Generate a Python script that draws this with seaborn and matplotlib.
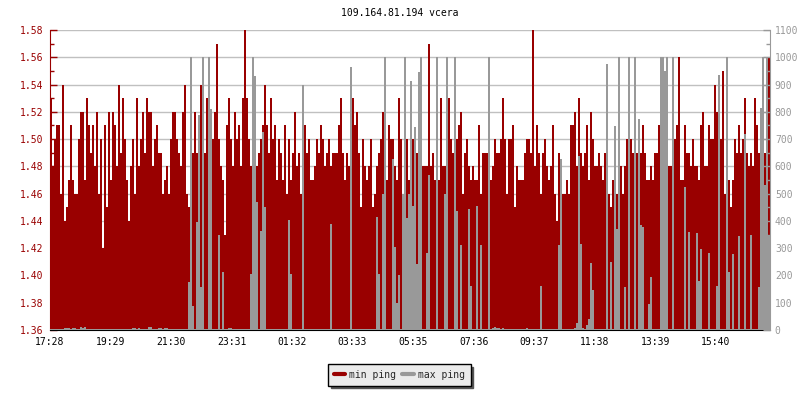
import numpy as np
import pandas as pd
import seaborn as sns
import matplotlib.pyplot as plt
from matplotlib.ticker import MultipleLocator, FormatStrFormatter
from matplotlib.lines import Line2D

title = "109.164.81.194 vcera"
start_time = "17:28"
tick_labels = ["17:28", "19:29", "21:30", "23:31", "01:32", "03:33",
               "05:35", "07:36", "09:37", "11:38", "13:39", "15:40"]
series_names = ["min ping", "max ping"]
step_minutes = 4  # one sample every 4 minutes, 24 hours

# min ping in hundredths of a ms (left axis)
min_ping_raw = [
    153, 148, 150, 151, 151, 146, 154, 144, 145, 147,
    151, 147, 146, 146, 150, 152, 152, 147, 153, 151,
    149, 151, 148, 152, 146, 150, 142, 151, 145, 152,
    147, 152, 151, 148, 154, 149, 153, 150, 147, 144,
    148, 150, 146, 153, 148, 150, 152, 149, 153, 152,
    152, 148, 150, 151, 149, 149, 146, 147, 148, 146,
    150, 152, 152, 150, 149, 148, 152, 154, 146, 145,
    149, 149, 152, 149, 150, 154, 147, 149, 153, 150,
    152, 150, 152, 157, 150, 148, 147, 143, 151, 153,
    150, 148, 152, 150, 151, 148, 153, 158, 153, 150,
    148, 147, 147, 148, 149, 150, 151, 154, 151, 149,
    153, 150, 151, 147, 150, 149, 147, 151, 146, 150,
    147, 149, 152, 148, 149, 146, 150, 151, 149, 150,
    147, 147, 148, 150, 149, 151, 150, 148, 149, 150,
    148, 149, 149, 149, 151, 153, 149, 147, 149, 148,
    154, 153, 151, 152, 149, 145, 150, 148, 147, 148,
    150, 145, 146, 148, 149, 150, 152, 148, 147, 151,
    150, 150, 148, 147, 153, 150, 146, 151, 150, 147,
    150, 150, 148, 149, 151, 147, 148, 148, 148, 157,
    148, 149, 147, 148, 147, 153, 148, 148, 149, 153,
    150, 149, 150, 150, 151, 152, 146, 149, 150, 148,
    147, 148, 147, 147, 151, 146, 149, 149, 149, 144,
    147, 148, 150, 149, 149, 150, 153, 150, 146, 150,
    150, 151, 145, 148, 147, 147, 147, 149, 150, 150,
    149, 158, 148, 151, 149, 146, 149, 150, 148, 147,
    148, 151, 146, 144, 149, 148, 146, 146, 147, 146,
    151, 151, 152, 148, 153, 149, 148, 149, 151, 147,
    152, 150, 148, 148, 149, 148, 147, 149, 152, 146,
    145, 147, 145, 146, 146, 148, 146, 148, 150, 151,
    150, 149, 149, 149, 151, 149, 151, 149, 147, 147,
    148, 147, 149, 149, 151, 148, 150, 148, 151, 148,
    148, 152, 150, 151, 156, 147, 147, 151, 149, 149,
    148, 150, 148, 148, 147, 151, 152, 148, 148, 151,
    150, 150, 154, 152, 152, 150, 155, 146, 150, 147,
    145, 147, 150, 149, 151, 149, 150, 153, 149, 148,
    149, 148, 153, 151, 149, 148, 148, 149, 149, 156,
]

# max ping in ms (right axis)
max_ping = [
    4, 4, 4, 4, 4, 4, 4, 8, 8, 8,
    4, 8, 8, 4, 4, 10, 8, 10, 4, 4,
    4, 4, 4, 4, 4, 4, 4, 4, 4, 4,
    4, 4, 4, 4, 4, 4, 4, 4, 4, 4,
    4, 6, 6, 4, 6, 4, 4, 4, 4, 10,
    10, 4, 4, 4, 8, 8, 4, 6, 8, 4,
    4, 4, 4, 4, 4, 4, 4, 4, 4, 177,
    1000, 88, 4, 395, 790, 156, 1000, 4, 4, 1000,
    810, 4, 4, 4, 348, 4, 211, 4, 4, 8,
    8, 4, 4, 4, 4, 4, 4, 4, 4, 4,
    206, 1000, 932, 469, 4, 364, 726, 450, 4, 4,
    4, 4, 4, 4, 4, 4, 4, 4, 4, 405,
    205, 4, 4, 4, 4, 4, 897, 4, 4, 4,
    4, 4, 4, 4, 4, 4, 4, 4, 4, 4,
    389, 4, 4, 4, 4, 4, 4, 4, 4, 4,
    963, 4, 4, 4, 4, 4, 4, 4, 4, 4,
    4, 4, 4, 413, 205, 4, 500, 1000, 4, 4,
    4, 628, 303, 100, 202, 4, 500, 1000, 410, 500,
    913, 456, 745, 242, 947, 1000, 4, 4, 283, 567,
    4, 4, 4, 1000, 4, 4, 4, 500, 1000, 4,
    4, 4, 1000, 438, 4, 312, 4, 4, 4, 442,
    162, 4, 4, 453, 4, 312, 4, 4, 4, 1000,
    4, 8, 12, 8, 6, 4, 8, 4, 4, 4,
    4, 4, 4, 4, 4, 4, 4, 4, 6, 4,
    4, 4, 4, 4, 4, 162, 4, 4, 4, 4,
    4, 4, 4, 4, 313, 628, 4, 4, 4, 4,
    4, 4, 8, 27, 637, 315, 8, 4, 20, 40,
    245, 146, 4, 4, 4, 4, 4, 4, 975, 4,
    248, 4, 747, 370, 1000, 4, 4, 156, 4, 1000,
    4, 4, 1000, 4, 775, 385, 379, 4, 4, 94,
    193, 4, 4, 4, 4, 1000, 1000, 950, 1000, 4,
    4, 1000, 4, 4, 4, 4, 4, 524, 4, 358,
    4, 4, 4, 356, 180, 297, 4, 4, 4, 282,
    4, 4, 4, 162, 935, 4, 4, 4, 1000, 211,
    4, 279, 4, 4, 344, 4, 4, 720, 4, 4,
    348, 4, 4, 4, 156, 815, 1000, 530, 1000, 350,
]

RED = "#990000"
GRAY = "#999999"
MONO = ["DejaVu Sans Mono"]
FS = 7


def minutes_from_start(label):
    h, m = map(int, label.split(":"))
    h0, m0 = map(int, start_time.split(":"))
    return ((h * 60 + m) - (h0 * 60 + m0)) % 1440


df = pd.DataFrame({
    "t": np.arange(len(min_ping_raw)) * step_minutes + step_minutes / 2,
    "min_ping": np.array(min_ping_raw) / 100,
    "max_ping": max_ping,
})

sns.set_style("white")
plt.rcParams["font.family"] = MONO

fig = plt.figure(figsize=(8, 4), dpi=100)
ax = fig.add_axes([0.0625, 0.175, 0.9, 0.75])

sns.barplot(data=df, x="t", y="min_ping", native_scale=True, errorbar=None,
            color=RED, saturation=1, width=1, linewidth=0, ax=ax)
ax.set_xlim(0, 1440)
ax.set_ylim(1.36, 1.58)
ax.yaxis.set_major_locator(MultipleLocator(0.02))
ax.yaxis.set_minor_locator(MultipleLocator(0.01))
ax.yaxis.set_major_formatter(FormatStrFormatter("%.2f"))
ax.grid(axis="y", color="#c0c0c0", linewidth=1)
ax.grid(axis="x", visible=False)
ax.set_axisbelow(True)
ax.tick_params(axis="y", which="both", direction="in", colors=RED,
               labelsize=FS, pad=5)
ax.tick_params(axis="y", which="major", length=5, width=1)
ax.tick_params(axis="y", which="minor", length=3, width=1)
ax.set_xticks([minutes_from_start(l) for l in tick_labels])
ax.set_xticklabels(tick_labels)
ax.tick_params(axis="x", direction="in", length=4, width=1, colors="black",
               labelsize=FS, pad=5)
ax.set_xlabel("")
ax.set_ylabel("")
ax.spines["top"].set_visible(False)
ax.spines["right"].set_visible(False)
ax.spines["left"].set_color(RED)
ax.spines["bottom"].set_color("black")

ax2 = ax.twinx()
sns.barplot(data=df, x="t", y="max_ping", native_scale=True, errorbar=None,
            color=GRAY, saturation=1, width=1, linewidth=0, ax=ax2)
ax2.set_xlim(0, 1440)
ax2.set_ylim(0, 1100)
ax2.yaxis.set_major_locator(MultipleLocator(100))
ax2.yaxis.set_minor_locator(MultipleLocator(50))
ax2.tick_params(axis="y", which="both", direction="in", colors=GRAY,
                labelsize=FS, pad=3.5)
ax2.tick_params(axis="y", which="major", length=5, width=1)
ax2.tick_params(axis="y", which="minor", length=3, width=1)
ax2.grid(False)
ax2.set_xlabel("")
ax2.set_ylabel("")
for side in ["top", "left", "bottom"]:
    ax2.spines[side].set_visible(False)
ax2.spines["right"].set_color(GRAY)

fig.text(0.5, 1 - 13 / 400, title, ha="center", va="center", fontsize=FS,
         color="black")

handles = [Line2D([], [], color=RED, linewidth=3),
           Line2D([], [], color=GRAY, linewidth=3)]
leg = fig.legend(handles, series_names, loc="upper center",
                 bbox_to_anchor=(0.499, 0.1025), ncol=2, fontsize=FS,
                 frameon=True, fancybox=False,
                 shadow={"color": "#555555", "alpha": 1},
                 edgecolor="black", facecolor="#ebebeb", framealpha=1,
                 handlelength=1.2, handletextpad=0.4, columnspacing=0.6,
                 borderpad=0.6)
leg.get_frame().set_linewidth(1)

fig.savefig("out.png", dpi=100)
